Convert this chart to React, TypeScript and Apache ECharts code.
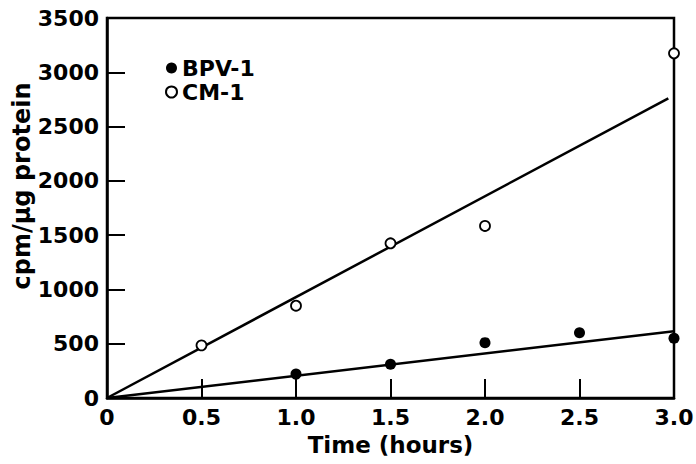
import React, { useEffect, useRef } from "react";
import * as echarts from "echarts";

const bpvTimes = [1.0, 1.5, 2.0, 2.5, 3.0];
const bpvValues = [220, 310, 510, 600, 550];
const cmTimes = [0.5, 1.0, 1.5, 2.0, 3.0];
const cmValues = [485, 850, 1425, 1585, 3175];
const bpvFitX = [0, 3.0];
const bpvFitY = [0, 615];
const cmFitX = [0, 2.97];
const cmFitY = [0, 2760];
const xTicks = [0, 0.5, 1.0, 1.5, 2.0, 2.5, 3.0];
const yTicks = [0, 500, 1000, 1500, 2000, 2500, 3000, 3500];

const FONT = "DejaVu Sans";
const FS = 22;

export default function App() {
  const ref = useRef<HTMLDivElement>(null);
  useEffect(() => {
    if (!ref.current) return;
    const chart = echarts.init(ref.current, null, { renderer: "svg" });
    const pair = (xs: number[], ys: number[]) => xs.map((x, i) => [x, ys[i]]);
    chart.setOption({
      animation: false,
      backgroundColor: "#fff",
      grid: {
        left: 107,
        right: 22,
        top: 18,
        bottom: 66,
        outerBoundsMode: "none",
        containLabel: false,
        show: true,
        borderColor: "#000",
        borderWidth: 2.5,
        backgroundColor: "transparent",
      },
      legend: {
        orient: "vertical",
        left: 160,
        top: 52,
        itemWidth: 11,
        itemHeight: 11,
        itemGap: 2,
        data: ["BPV-1", "CM-1"],
        textStyle: {
          fontFamily: FONT,
          fontWeight: "bold",
          fontSize: FS,
          lineHeight: 22,
          color: "#000",
        },
      },
      graphic: [
        {
          type: "text",
          x: 22,
          y: 186,
          rotation: Math.PI / 2,
          style: {
            text: "cpm/µg protein",
            font: `bold ${FS + 2}px "${FONT}"`,
            fill: "#000",
            align: "center",
            verticalAlign: "middle",
          },
        },
      ],
      xAxis: {
        type: "value",
        min: 0,
        max: 3,
        interval: 0.5,
        name: "Time (hours)",
        nameLocation: "middle",
        nameGap: 35,
        nameMoveOverlap: false,
        nameTextStyle: { fontFamily: FONT, fontWeight: "bold", fontSize: FS + 1, color: "#000" },
        axisLine: { show: true, lineStyle: { color: "#000", width: 2.5 } },
        axisTick: { show: true, inside: true, length: 19, lineStyle: { color: "#000", width: 2 } },
        splitLine: { show: false },
        axisLabel: {
          fontFamily: FONT,
          fontWeight: "bold",
          fontSize: FS,
          color: "#000",
          margin: 8,
          formatter: (v: number) => (xTicks.includes(v) ? (v === 0 ? "0" : v.toFixed(1)) : ""),
        },
      },
      yAxis: {
        type: "value",
        min: 0,
        max: 3500,
        interval: 500,
        axisLine: { show: true, lineStyle: { color: "#000", width: 2.5 } },
        axisTick: { show: true, inside: true, length: 18, lineStyle: { color: "#000", width: 2 } },
        splitLine: { show: false },
        axisLabel: {
          fontFamily: FONT,
          fontWeight: "bold",
          fontSize: FS,
          color: "#000",
          margin: 8,
          formatter: (v: number) => (yTicks.includes(v) ? String(v) : ""),
        },
      },
      series: [
        {
          name: "BPV-1",
          type: "scatter",
          symbol: "circle",
          symbolSize: 11,
          itemStyle: { color: "#000", opacity: 1 },
          data: pair(bpvTimes, bpvValues),
          z: 5,
        },
        {
          name: "CM-1",
          type: "scatter",
          symbol: "circle",
          symbolSize: 10,
          itemStyle: { color: "#fff", borderColor: "#000", borderWidth: 1.8, opacity: 1 },
          data: pair(cmTimes, cmValues),
          z: 5,
        },
        {
          name: "BPV-1 fit",
          type: "line",
          symbol: "none",
          lineStyle: { color: "#000", width: 2.5 },
          data: pair(bpvFitX, bpvFitY),
          z: 3,
        },
        {
          name: "CM-1 fit",
          type: "line",
          symbol: "none",
          lineStyle: { color: "#000", width: 2.5 },
          data: pair(cmFitX, cmFitY),
          z: 3,
        },
      ],
    });
    return () => chart.dispose();
  }, []);
  return <div ref={ref} style={{ width: 696, height: 464, position: "absolute", left: 0, top: 0 }} />;
}
